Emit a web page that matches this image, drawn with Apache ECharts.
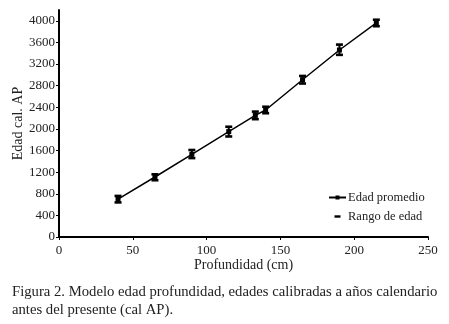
<!DOCTYPE html>
<html>
<head>
<meta charset="utf-8">
<script src="https://cdn.jsdelivr.net/npm/echarts@6/dist/echarts.min.js"></script>
<style>
  html, body { margin: 0; padding: 0; background: #fff; }
  #chart { width: 449px; height: 324px; }
</style>
</head>
<body>
<div id="chart"></div>
<script>
// profundidad (cm) y edad calibrada (cal AP)
const depth = [40, 65, 90, 115, 133, 140, 165, 190, 215];
const ageMean = [700, 1110, 1530, 1950, 2250, 2350, 2910, 3460, 3960];
const ageMin = [640, 1050, 1460, 1860, 2180, 2290, 2840, 3370, 3900];
const ageMax = [760, 1160, 1610, 2040, 2320, 2410, 2980, 3560, 4020];
const yTicks = [0, 400, 800, 1200, 1600, 2000, 2400, 2800, 3200, 3600, 4000];
const xTicks = [0, 50, 100, 150, 200, 250];

const serif = '"Liberation Serif", "DejaVu Serif", serif';
const chart = echarts.init(document.getElementById('chart'));

const rangeData = depth.map((d, i) => [d, ageMin[i], ageMax[i]]);

chart.setOption({
  animation: false,
  backgroundColor: '#fff',
  textStyle: { fontFamily: serif, color: '#222' },
  title: {
    text: 'Figura 2. Modelo edad profundidad, edades calibradas a años calendario\nantes del presente (cal AP).',
    left: 12,
    top: 283,
    padding: 0,
    textStyle: { fontFamily: serif, fontSize: 14.7, fontWeight: 'normal', color: '#222', lineHeight: 18 }
  },
  legend: {
    orient: 'vertical',
    left: 328,
    top: 191,
    padding: 0,
    itemGap: 6,
    itemWidth: 17,
    itemHeight: 5,
    textStyle: { fontFamily: serif, fontSize: 12.5, color: '#222', padding: [0, 0, 0, -3] },
    data: [
      { name: 'Edad promedio' },
      // bounding box 17x5 via move points, visible dash centred
      { name: 'Rango de edad', icon: 'path://M0,0M17,5M5.5,1.3h6v2.4h-6z' }
    ]
  },
  grid: { left: 59, right: 21, top: 10, bottom: 87, outerBoundsMode: 'none' },
  xAxis: {
    type: 'value',
    min: 0,
    max: 250,
    interval: 50,
    name: 'Profundidad (cm)',
    nameLocation: 'middle',
    nameGap: 21,
    nameMoveOverlap: false,
    nameTextStyle: { fontFamily: serif, fontSize: 14, color: '#222' },
    axisLine: { show: true, lineStyle: { color: '#000', width: 2 } },
    axisTick: { show: true, length: 3, lineStyle: { color: '#000' }, customValues: xTicks },
    axisLabel: { fontFamily: serif, fontSize: 13, color: '#222', margin: 7, customValues: xTicks, formatter: v => String(v) },
    splitLine: { show: false }
  },
  yAxis: {
    type: 'value',
    min: 0,
    max: 4200,
    name: 'Edad cal. AP',
    nameLocation: 'middle',
    nameGap: 34,
    nameMoveOverlap: false,
    nameTextStyle: { fontFamily: serif, fontSize: 14, color: '#222' },
    axisLine: { show: true, lineStyle: { color: '#000', width: 2 } },
    axisTick: { show: true, length: 3, lineStyle: { color: '#000' }, customValues: yTicks },
    axisLabel: { fontFamily: serif, fontSize: 13, color: '#222', margin: 4, customValues: yTicks, formatter: v => String(v) },
    splitLine: { show: false }
  },
  series: [
    {
      name: 'Edad promedio',
      type: 'line',
      data: depth.map((d, i) => [d, ageMean[i]]),
      symbol: 'rect',
      symbolSize: 5,
      itemStyle: { color: '#000' },
      lineStyle: { color: '#000', width: 1.5 },
      z: 3
    },
    {
      name: 'Rango de edad',
      type: 'custom',
      data: rangeData,
      itemStyle: { color: '#000' },
      renderItem: function (params, api) {
        const lo = api.coord([api.value(0), api.value(1)]);
        const hi = api.coord([api.value(0), api.value(2)]);
        const w = 3.5;
        return {
          type: 'group',
          children: [
            { type: 'line', shape: { x1: lo[0], y1: lo[1], x2: hi[0], y2: hi[1] }, style: { stroke: '#000', lineWidth: 2 } },
            { type: 'rect', shape: { x: lo[0] - w, y: lo[1] - 1.3, width: 2 * w, height: 2.6 }, style: { fill: '#000' } },
            { type: 'rect', shape: { x: hi[0] - w, y: hi[1] - 1.3, width: 2 * w, height: 2.6 }, style: { fill: '#000' } }
          ]
        };
      },
      z: 4
    }
  ]
});
</script>
</body>
</html>
